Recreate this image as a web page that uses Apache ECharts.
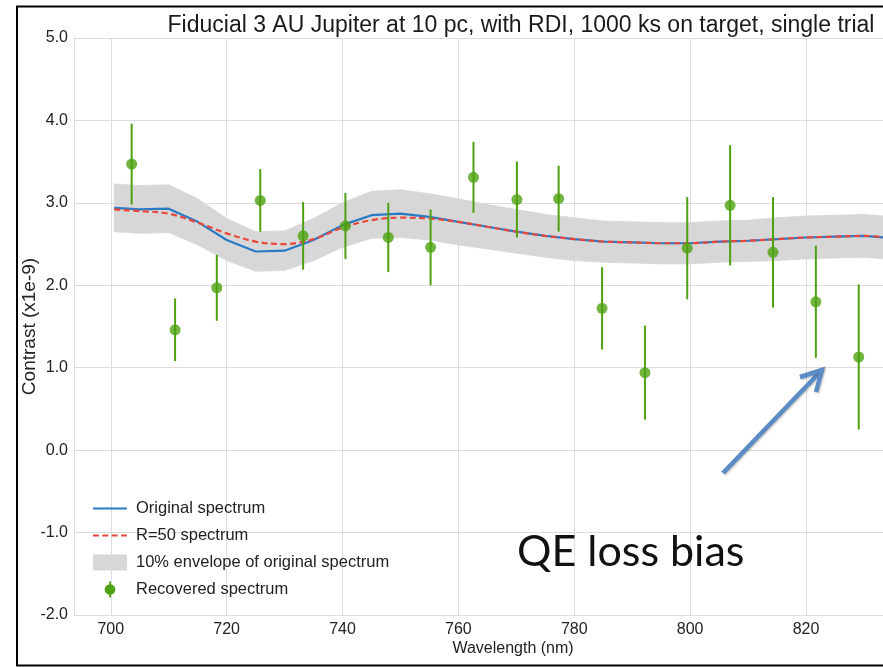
<!DOCTYPE html>
<html>
<head>
<meta charset="utf-8">
<script src="https://cdn.jsdelivr.net/npm/echarts@6/dist/echarts.min.js"></script>
<style>
  html, body { margin: 0; padding: 0; background: #ffffff; }
  #chart { width: 883px; height: 667px; }
</style>
</head>
<body>
<div id="chart"></div>
<script>
// Model spectrum sampled on a 5 nm grid
const wavelengths = [700.6, 705, 710, 715, 720, 725, 730, 735, 740, 745, 750, 755, 760, 765,
  770, 775, 780, 785, 790, 795, 800, 805, 810, 815, 820, 825, 830, 835];
const originalSpectrum = [2.94, 2.92, 2.93, 2.77, 2.55, 2.41, 2.42, 2.55, 2.73, 2.85, 2.87, 2.83, 2.77, 2.71,
  2.65, 2.60, 2.56, 2.53, 2.52, 2.51, 2.51, 2.53, 2.54, 2.56, 2.58, 2.59, 2.60, 2.57];
const r50Spectrum = [2.92, 2.90, 2.87, 2.76, 2.63, 2.53, 2.50, 2.56, 2.70, 2.79, 2.82, 2.81, 2.77, 2.71,
  2.65, 2.60, 2.56, 2.53, 2.52, 2.51, 2.51, 2.53, 2.54, 2.56, 2.58, 2.59, 2.60, 2.57];
const envelopeLow = [2.65, 2.63, 2.64, 2.49, 2.30, 2.17, 2.18, 2.30, 2.46, 2.57, 2.58, 2.55, 2.49, 2.44,
  2.39, 2.34, 2.30, 2.28, 2.27, 2.26, 2.26, 2.28, 2.29, 2.30, 2.32, 2.33, 2.34, 2.31];
const envelopeHigh = [3.23, 3.21, 3.22, 3.05, 2.81, 2.65, 2.66, 2.81, 3.00, 3.14, 3.16, 3.11, 3.05, 2.98,
  2.92, 2.86, 2.82, 2.78, 2.77, 2.76, 2.76, 2.78, 2.79, 2.82, 2.84, 2.85, 2.86, 2.83];

// Recovered spectrum with 1-sigma errors
const recoveredWavelengths = [703.6, 711.1, 718.3, 725.8, 733.2, 740.5, 747.9, 755.2, 762.6,
  770.1, 777.3, 784.8, 792.2, 799.5, 806.9, 814.3, 821.7, 829.1];
const recoveredContrast = [3.47, 1.46, 1.97, 3.03, 2.60, 2.72, 2.58, 2.46, 3.31,
  3.04, 3.05, 1.72, 0.94, 2.45, 2.97, 2.40, 1.80, 1.13];
const recoveredError = [0.49, 0.38, 0.40, 0.38, 0.41, 0.40, 0.42, 0.46, 0.43,
  0.46, 0.40, 0.50, 0.57, 0.62, 0.73, 0.67, 0.68, 0.88];

const titleText = 'Fiducial 3 AU Jupiter at 10 pc, with RDI, 1000 ks on target, single trial';
const xAxisName = 'Wavelength (nm)';
const yAxisName = 'Contrast (x1e-9)';
const seriesNames = ['Original spectrum', 'R=50 spectrum', '10% envelope of original spectrum', 'Recovered spectrum'];
const annotationText = 'QE loss bias';

const SANS = "'Liberation Sans', Arial, sans-serif";
const BLUE = '#2a7ac6';
const RED = '#e8473b';
const GREEN = '#4ea10f';
const BAND = '#d7d7d7';
const GRID = '#dcdcdc';
const TEXT = '#222222';
const ARROW = '#5b8cc6';

const pairs = (xs, ys) => xs.map((x, i) => [x, ys[i]]);

// consecutive envelope samples, one quad per interval
const envelopeSegments = wavelengths.slice(0, -1).map((w, i) => [
  w, envelopeLow[i], envelopeHigh[i],
  wavelengths[i + 1], envelopeLow[i + 1], envelopeHigh[i + 1]
]);

const chart = echarts.init(document.getElementById('chart'), null, { renderer: 'canvas' });

chart.setOption({
  animation: false,
  backgroundColor: '#ffffff',
  title: {
    text: titleText,
    left: 516,
    textAlign: 'center',
    top: 8,
    textStyle: { fontFamily: SANS, fontSize: 23, fontWeight: 'normal', color: '#1a1a1a', lineHeight: 26 }
  },
  grid: { left: 74, top: 38, width: 878, bottom: 52, outerBoundsMode: 'none', containLabel: false },
  xAxis: {
    type: 'value',
    min: 693.65,
    max: 845.2,
    minInterval: 20,
    maxInterval: 20,
    axisLine: { show: true, lineStyle: { color: GRID, width: 1 } },
    axisTick: { show: false },
    splitLine: { show: true, lineStyle: { color: GRID, width: 1 } },
    axisLabel: {
      showMinLabel: false, showMaxLabel: false, margin: 7,
      fontFamily: SANS, fontSize: 16, color: TEXT
    },
    name: xAxisName,
    nameLocation: 'middle',
    nameGap: 26,
    nameMoveOverlap: false,
    nameTextStyle: { fontFamily: SANS, fontSize: 16, color: TEXT }
  },
  yAxis: {
    type: 'value',
    min: -2,
    max: 5,
    interval: 1,
    axisLine: { show: true, lineStyle: { color: GRID, width: 1 } },
    axisTick: { show: false },
    splitLine: { show: true, lineStyle: { color: GRID, width: 1 } },
    axisLabel: {
      margin: 6, fontFamily: SANS, fontSize: 16, color: TEXT,
      formatter: v => v.toFixed(1)
    },
    name: yAxisName,
    nameLocation: 'middle',
    nameGap: 35,
    nameMoveOverlap: false,
    nameTextStyle: { fontFamily: SANS, fontSize: 19, color: TEXT }
  },
  legend: {
    orient: 'vertical',
    left: 88,
    top: 495,
    itemWidth: 34,
    itemHeight: 16,
    itemGap: 10,
    selectedMode: false,
    textStyle: { fontFamily: SANS, fontSize: 16.5, color: TEXT, lineHeight: 17, padding: [0, 0, 0, 4] },
    data: [
      { name: seriesNames[0], icon: 'path://M0,0H36V2.2H0Z' },
      { name: seriesNames[1], icon: 'path://M0,0h6v2.2h-6z M9.5,0h6v2.2h-6z M19,0h6v2.2h-6z M28.5,0h6v2.2h-6z' },
      { name: seriesNames[2], icon: 'rect' },
      { name: seriesNames[3], icon: 'path://M5,0H7V18H5Z M6,3A6,6 0 1,1 6,15A6,6 0 1,1 6,3Z' }
    ]
  },
  series: [
    {
      name: seriesNames[2],
      type: 'custom',
      color: BAND,
      silent: true,
      encode: { x: [0, 3], y: [1, 2] },
      data: envelopeSegments,
      renderItem: (params, api) => {
        const p0lo = api.coord([api.value(0), api.value(1)]);
        const p0hi = api.coord([api.value(0), api.value(2)]);
        const p1lo = api.coord([api.value(3), api.value(4)]);
        const p1hi = api.coord([api.value(3), api.value(5)]);
        return {
          type: 'polygon',
          shape: { points: [p0lo, p1lo, p1hi, p0hi] },
          style: { fill: BAND, stroke: BAND, lineWidth: 0.8 }
        };
      },
      z: 1
    },
    {
      name: seriesNames[0],
      type: 'line',
      symbol: 'none',
      color: BLUE,
      lineStyle: { color: BLUE, width: 2.2 },
      data: pairs(wavelengths, originalSpectrum),
      z: 2
    },
    {
      name: seriesNames[1],
      type: 'line',
      symbol: 'none',
      smooth: 0.35,
      color: RED,
      lineStyle: { color: RED, width: 2.2, type: [6, 3.5] },
      data: pairs(wavelengths, r50Spectrum),
      z: 3
    },
    {
      name: seriesNames[3],
      type: 'custom',
      color: GREEN,
      silent: true,
      encode: { x: 0, y: 1 },
      data: recoveredWavelengths.map((w, i) => [w, recoveredContrast[i], recoveredError[i]]),
      renderItem: (params, api) => {
        const x = api.value(0), v = api.value(1), e = api.value(2);
        const lo = api.coord([x, v - e]);
        const hi = api.coord([x, v + e]);
        return {
          type: 'line',
          shape: { x1: lo[0], y1: lo[1], x2: hi[0], y2: hi[1] },
          style: { stroke: GREEN, lineWidth: 2 }
        };
      },
      z: 4
    },
    {
      name: seriesNames[3],
      type: 'scatter',
      symbol: 'circle',
      symbolSize: 11,
      color: GREEN,
      itemStyle: { color: GREEN },
      data: pairs(recoveredWavelengths, recoveredContrast),
      z: 5
    }
  ],
  graphic: [
    {
      // slide frame around the figure
      type: 'rect',
      silent: true,
      shape: { x: 17, y: 6.5, width: 900, height: 659 },
      style: { fill: null, stroke: '#000000', lineWidth: 2 },
      z: 100
    },
    {
      type: 'text',
      silent: true,
      style: {
        x: 517, y: 531, text: annotationText,
        font: "43px Lato, 'Open Sans', sans-serif",
        fill: '#111111', textVerticalAlign: 'alphabetic'
      },
      z: 100
    },
    {
      type: 'polyline',
      silent: true,
      shape: { points: [[723, 473], [821, 371]] },
      style: { stroke: ARROW, lineWidth: 4.5, shadowBlur: 2, shadowColor: 'rgba(0,0,0,0.25)', shadowOffsetX: 1, shadowOffsetY: 1 },
      z: 100
    },
    {
      type: 'polyline',
      silent: true,
      shape: { points: [[800, 377], [822, 370], [816, 392]] },
      style: { stroke: ARROW, lineWidth: 4.5, lineJoin: 'miter', shadowBlur: 2, shadowColor: 'rgba(0,0,0,0.25)', shadowOffsetX: 1, shadowOffsetY: 1 },
      z: 100
    }
  ]
});
</script>
</body>
</html>
